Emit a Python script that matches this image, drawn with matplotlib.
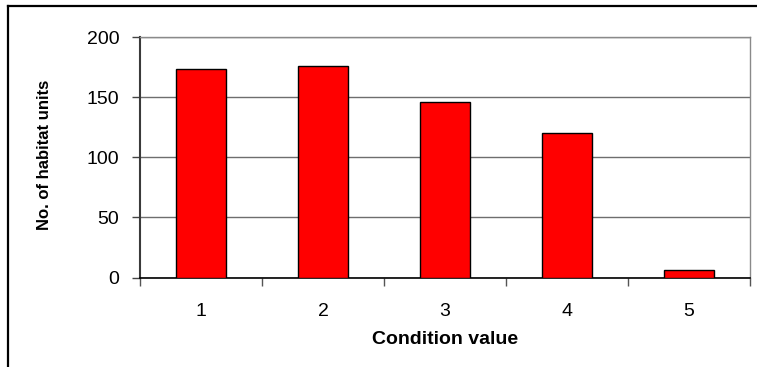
import numpy as np
import matplotlib
matplotlib.use("Agg")
import matplotlib.pyplot as plt
from matplotlib.lines import Line2D

plt.rcParams['font.family'] = ['Liberation Sans', 'DejaVu Sans']

condition = [1, 2, 3, 4, 5]
habitat_units = [173, 176, 146, 120, 6]
y_ticks = [0, 50, 100, 150, 200]

W, H = 757, 367
fig = plt.figure(figsize=(W / 100, H / 100), dpi=100)
ax = fig.add_axes([140 / W, 1 - 277.5 / H, 610 / W, 240.5 / H])

ax.set_axisbelow(True)
ax.bar(condition, habitat_units, width=0.41, color='#ff0000',
       edgecolor='black', linewidth=1.0, zorder=3)

ax.set_xlim(0.5, 5.5)
ax.set_ylim(0, 200)
ax.set_yticks(y_ticks)
ax.yaxis.grid(True, color='#6e6e6e', linewidth=1.0)

# category boundaries get the tick marks, the labels sit in the middle
ax.set_xticks(np.arange(0.5, 6.0, 1.0))
ax.set_xticklabels([])
ax.set_xticks(condition, minor=True)
ax.set_xticklabels([str(c) for c in condition], minor=True)
ax.tick_params(axis='x', which='major', direction='out', length=6, width=1,
               color='#555555')
ax.tick_params(axis='x', which='minor', length=0, pad=18, labelsize=14)
ax.tick_params(axis='y', direction='out', length=6, width=1, color='#444444',
               pad=9, labelsize=14)

for side in ['top', 'right']:
    ax.spines[side].set_color('#8a8a8a')
    ax.spines[side].set_linewidth(1.0)
ax.spines['left'].set_color('#3a3a3a')
ax.spines['left'].set_linewidth(1.5)
ax.spines['bottom'].set_color('black')
ax.spines['bottom'].set_linewidth(1.2)

fig.text(445 / W, 1 - 339 / H, 'Condition value', ha='center', va='center',
         fontsize=14, fontweight='bold')
fig.text(45 / W, 1 - 155 / H, 'No. of habitat units', ha='center', va='center',
         rotation=90, fontsize=12, fontweight='bold')

# chart frame (left and top edges fall inside the canvas)
fig.add_artist(Line2D([8 / W, 8 / W], [0, 1 - 6 / H], color='black', linewidth=1.6,
                      transform=fig.transFigure))
fig.add_artist(Line2D([8 / W, 756 / W], [1 - 6 / H, 1 - 6 / H], color='black',
                      linewidth=1.6, transform=fig.transFigure))

fig.savefig('out.png', dpi=100)
